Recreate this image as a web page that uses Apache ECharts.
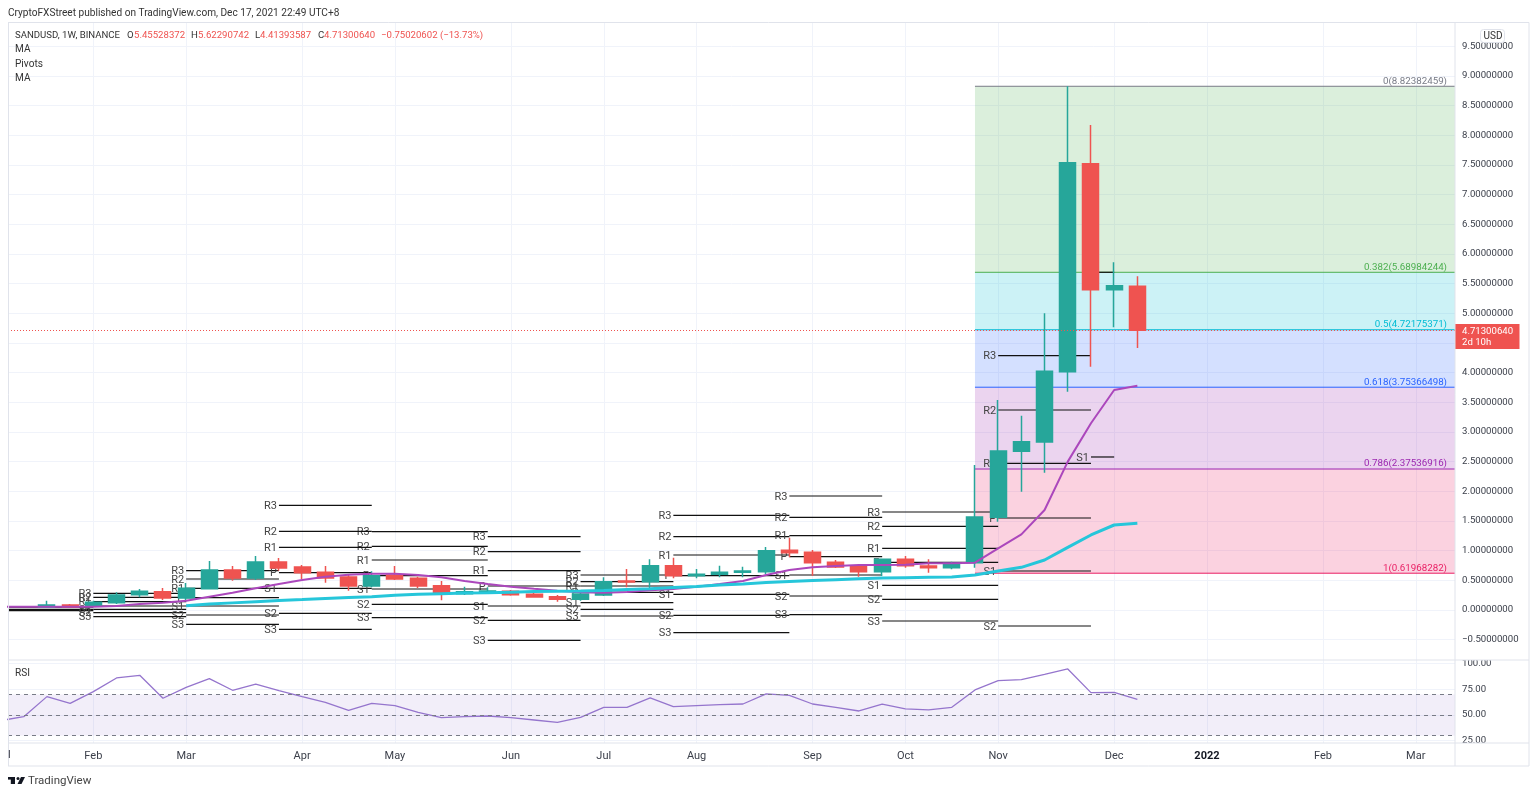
<!DOCTYPE html>
<html><head><meta charset="utf-8">
<style>html,body{margin:0;padding:0;background:#fff}#c{width:1536px;height:796px}</style>
<script src="https://cdn.jsdelivr.net/npm/echarts@6/dist/echarts.min.js"></script>
</head><body><div id="c"></div>
<script>
const weeks = ['2021-01-18','2021-01-25','2021-02-01','2021-02-08','2021-02-15','2021-02-22','2021-03-01','2021-03-08','2021-03-15','2021-03-22','2021-03-29','2021-04-05','2021-04-12','2021-04-19','2021-04-26','2021-05-03','2021-05-10','2021-05-17','2021-05-24','2021-05-31','2021-06-07','2021-06-14','2021-06-21','2021-06-28','2021-07-05','2021-07-12','2021-07-19','2021-07-26','2021-08-02','2021-08-09','2021-08-16','2021-08-23','2021-08-30','2021-09-06','2021-09-13','2021-09-20','2021-09-27','2021-10-04','2021-10-11','2021-10-18','2021-10-25','2021-11-01','2021-11-08','2021-11-15','2021-11-22','2021-11-29','2021-12-06','2021-12-13'];
const opens  = [.045,.084,.067,.124,.258,.309,.202,.359,.674,.539,.809,.724,.635,.556,.404,.59,.534,.41,.275,.303,.314,.264,.225,.18,.253,.489,.477,.747,.578,.601,.635,.646,1.005,.972,.803,.741,.646,.854,.741,.713,.797,1.562,2.674,2.831,4.015,7.52,5.397,5.45528372];
const closes = [.084,.05,.129,.253,.314,.202,.365,.674,.539,.809,.708,.629,.539,.404,.578,.522,.404,.281,.309,.32,.258,.219,.18,.27,.477,.472,.747,.578,.601,.635,.657,1.0,.966,.797,.724,.646,.854,.747,.713,.786,1.567,2.679,2.836,4.022,7.537,5.397,5.464,4.7130064];
const lows   = [.045,.04,.05,.10,.213,.168,.168,.348,.494,.505,.663,.522,.46,.326,.382,.505,.371,.163,.253,.281,.241,.208,.14,.157,.236,.382,.359,.534,.534,.55,.55,.601,.887,.578,.708,.562,.573,.713,.629,.685,.713,1.488,1.993,2.313,3.678,4.099,4.763,4.41393587];
const highs  = [.157,.10,.157,.298,.354,.371,.455,.826,.741,.91,.876,.758,.741,.601,.651,.741,.562,.489,.393,.382,.337,.292,.253,.309,.55,.691,.854,.882,.691,.747,.73,1.061,1.219,1.011,.842,.769,.865,.91,.854,.814,2.443,3.538,3.274,4.999,8.824,8.172,5.858,5.62290742];

const maFastDates = ['2021-01-04','2021-01-11'].concat(weeks);
const maFast = [.056,.056,.056,.056,.056,.067,.101,.124,.157,.225,.292,.365,.438,.505,.562,.595,.612,.612,.59,.55,.489,.438,.393,.359,.326,.298,.292,.303,.331,.354,.393,.438,.489,.59,.674,.719,.741,.758,.758,.764,.786,.786,.797,1.039,1.275,1.685,2.50,3.147,3.707,3.78];
const maSlowDates = weeks.slice(6);
const maSlow = [.073,.1,.12,.14,.16,.175,.195,.21,.225,.25,.265,.275,.285,.29,.3,.31,.315,.32,.33,.345,.36,.38,.395,.42,.44,.465,.48,.495,.51,.525,.54,.545,.55,.555,.59,.657,.719,.842,1.056,1.264,1.432,1.46];
const rsiDates = ['2021-01-04','2021-01-11'].concat(weeks);
const rsi = [44.5,48.4,67.9,61.4,72.8,86.1,88.7,66.3,77,85.4,74.1,80.2,73.7,67.9,62.4,54.6,61.4,59.1,52.6,47.4,48.4,49,47.4,45.1,42.8,47.7,57.5,57.5,66.6,58.1,59.1,60.1,60.7,70.5,69.2,60.7,57.5,53.9,60.7,55.9,54.9,57.5,74.4,83.5,84.5,89.5,94.9,71.8,72.1,65.3];

const pivotStarts = ['2021-01-04','2021-02-01','2021-03-01','2021-03-29','2021-04-26','2021-05-31','2021-06-28','2021-07-26','2021-08-30','2021-09-27','2021-11-01','2021-11-29'];
const pivotEnds   = ['2021-02-01','2021-03-01','2021-03-29','2021-04-26','2021-05-31','2021-06-28','2021-07-26','2021-08-30','2021-09-27','2021-11-01','2021-11-29','2021-12-06'];
const pivotR3 = [null,.281,.663,1.763,1.32,1.236,.59,1.595,1.921,1.651,4.285,null];
const pivotR2 = [null,.213,.522,1.325,1.073,.983,.477,1.236,1.561,1.41,3.37,null];
const pivotR1 = [.05,.14,.365,1.056,.842,.663,.404,.927,1.252,1.039,2.472,9.97];
const pivotP  = [.011,.067,.208,.629,.578,.404,.298,.578,.899,.803,1.55,5.69];
const pivotS1 = [-.011,.011,.067,.365,.354,.067,.124,.264,.59,.416,.657,2.578];
const pivotS2 = [null,-.045,-.084,-.056,.095,-.174,.011,-.09,.236,.18,-.27,null];
const pivotS3 = [null,-.112,-.241,-.326,-.129,-.511,-.101,-.382,-.079,-.185,null,null];
const pivotNames = ['R3','R2','R1','P','S1','S2','S3'];
const pivotLevels = [pivotR3,pivotR2,pivotR1,pivotP,pivotS1,pivotS2,pivotS3];

const fibRatios = ['0','0.382','0.5','0.618','0.786','1'];
const fibPrices = [8.82382459,5.68984244,4.72175371,3.75366498,2.37536916,0.61968282];
const fibStart = '2021-10-25';
const lastPrice = 4.7130064;

const priceTicks = [-0.5,0,0.5,1,1.5,2,2.5,3,3.5,4,4.5,5,5.5,6,6.5,7,7.5,8,8.5,9,9.5];
const rsiTicks = [25,50,75,100];
const rsiLevels = [70,50,30];
const monthDates = ['2021-02-01','2021-03-01','2021-04-05','2021-05-03','2021-06-07','2021-07-05','2021-08-02','2021-09-06','2021-10-04','2021-11-01','2021-12-06','2022-01-03','2022-02-07','2022-03-07'];
const monthLabels = ['Feb','Mar','Apr','May','Jun','Jul','Aug','Sep','Oct','Nov','Dec','2022','Feb','Mar'];

const FONT = 'Roboto';
const TEAL='#26a69a', RED='#ef5350', GRIDC='#f0f3fa', BORDER='#e0e3eb', TXT='#3c404b';
const fibColors = ['#787b86','#4caf50','#00bcd4','#2962ff','#9c27b0','#e91e63'];
const xMin = +new Date('2021-01-06T06:00:00Z'), xMax = +new Date('2022-03-18T20:00:00Z');
const monthTs = monthDates.map(d => +new Date(d));

const splitX = {show:true,lineStyle:{color:GRIDC,width:1}};
function xAxis(gi, showLabel){
  return {type:'value',gridIndex:gi,min:xMin,max:xMax,
    axisLine:{show:false},
    axisTick:{show:false,customValues:monthTs},
    splitLine:splitX,
    axisLabel:{show:showLabel,customValues:monthTs,margin:8,color:TXT,fontFamily:FONT,fontSize:11,hideOverlap:false,
      formatter:v=>{const i=monthTs.indexOf(+v);const s=i<0?'':monthLabels[i];return s==='2022'?'{y|2022}':s;},
      rich:{y:{fontWeight:'bold',fontFamily:FONT,fontSize:11,color:'#131722'}}}};
}

const pivotData=[];
pivotLevels.forEach((lv,n)=>lv.forEach((p,i)=>{if(p!==null)pivotData.push([+new Date(pivotStarts[i]),+new Date(pivotEnds[i]),p,n]);}));

const fibData = fibPrices.map((p,i)=>[p,i]);

const txt=(x,y,text,fill,extra)=>({type:'text',x,y,z:50,silent:true,style:Object.assign({text,fill,font:'9.6px '+FONT,verticalAlign:'middle'},extra||{})});
const rect=(x,y,w,h,fill,stroke)=>({type:'rect',z:40,silent:true,shape:{x,y,width:w,height:h},style:{fill:fill||'none',stroke:stroke||'none',lineWidth:1}});
const hl=(x1,y1,x2,y2)=>({type:'line',z:41,silent:true,shape:{x1,y1,x2,y2},style:{stroke:BORDER,lineWidth:1}});
const F101={font:'10.1px '+FONT};

const option={
  animation:false,backgroundColor:'#fff',
  grid:[{left:8,top:23,width:1447,height:637,show:false},{left:8,top:660,width:1447,height:83,show:false}],
  xAxis:[xAxis(0,false),xAxis(1,true)],
  yAxis:[
    {type:'value',gridIndex:0,position:'right',min:-0.8425,max:9.89,
     axisLine:{show:false},axisTick:{show:false,customValues:priceTicks},
     splitLine:{show:true,lineStyle:{color:GRIDC}},
     axisLabel:{customValues:priceTicks,margin:7,color:TXT,fontFamily:FONT,fontSize:9.6,padding:[3,0,0,0],
       formatter:v=>(v<0?'\u2212':'')+Math.abs(v).toFixed(8)}},
    {type:'value',gridIndex:1,position:'right',min:22.7,max:103.6,
     axisLine:{show:false},axisTick:{show:false,customValues:rsiTicks},
     splitLine:{show:true,lineStyle:{color:GRIDC}},
     axisLabel:{customValues:rsiTicks,margin:7,color:TXT,fontFamily:FONT,fontSize:9.6,padding:[3,0,0,0],formatter:v=>v.toFixed(2)}}
  ],
  series:[
    {type:'custom',name:'Fib',xAxisIndex:0,yAxisIndex:0,z:1,silent:true,data:fibData,encode:{y:0},
     renderItem:(params,api)=>{
       const i=api.value(1),p=api.value(0);
       const L=+new Date(fibStart);
       const a=api.coord([L,p]),b=api.coord([xMax,p]);
       const kids=[];
       if(i<fibPrices.length-1){
         const c=api.coord([L,fibPrices[i+1]]);
         kids.push({type:'rect',shape:{x:a[0],y:a[1],width:b[0]-a[0],height:c[1]-a[1]},style:{fill:fibColors[i+1],opacity:.2}});
       }
       kids.push({type:'line',shape:{x1:a[0],y1:a[1],x2:b[0],y2:b[1]},style:{stroke:fibColors[i],lineWidth:1}});
       kids.push({type:'text',x:b[0]-8,y:a[1],style:{text:fibRatios[i]+'('+fibPrices[i].toFixed(8)+')',align:'right',verticalAlign:'bottom',fill:fibColors[i],font:'9.75px '+FONT}});
       return {type:'group',children:kids};
     }},
    {type:'custom',name:'Pivots',xAxisIndex:0,yAxisIndex:0,z:2,silent:true,clip:true,data:pivotData,encode:{x:[0,1],y:2},
     renderItem:(params,api)=>{
       const a=api.coord([api.value(0),api.value(2)]),b=api.coord([api.value(1),api.value(2)]);
       return {type:'group',children:[
         {type:'line',shape:{x1:a[0],y1:a[1],x2:b[0],y2:b[1]},style:{stroke:'#111',lineWidth:1.2}},
         {type:'text',x:a[0]-2,y:a[1]+1,style:{text:pivotNames[api.value(3)],align:'right',verticalAlign:'middle',fill:'#444',font:'11px '+FONT}}
       ]};
     }},
    {type:'candlestick',name:'SANDUSD',xAxisIndex:0,yAxisIndex:0,z:3,silent:true,barWidth:16.5,
     encode:{x:0,y:[1,2,3,4]},
     itemStyle:{color:TEAL,color0:RED,borderColor:TEAL,borderColor0:RED,borderWidth:1.5},
     data:weeks.map((d,i)=>[+new Date(d),opens[i],closes[i],lows[i],highs[i]])},
    {type:'line',name:'MA',xAxisIndex:0,yAxisIndex:0,z:4,silent:true,symbol:'none',clip:true,
     lineStyle:{color:'#ab47bc',width:2},
     data:maFastDates.map((d,i)=>[+new Date(d),maFast[i]])},
    {type:'line',name:'MA2',xAxisIndex:0,yAxisIndex:0,z:4,silent:true,symbol:'none',
     lineStyle:{color:'#26c6da',width:3},
     data:maSlowDates.map((d,i)=>[+new Date(d),maSlow[i]]),
     markLine:{silent:true,symbol:'none',label:{show:false},
       lineStyle:{color:RED,type:[1,2],width:1},data:[{yAxis:lastPrice}]}},
    {type:'line',name:'RSI',xAxisIndex:1,yAxisIndex:1,z:4,silent:true,symbol:'none',clip:true,
     lineStyle:{color:'#9575cd',width:1.3},
     data:rsiDates.map((d,i)=>[+new Date(d),rsi[i]]),
     markArea:{silent:true,itemStyle:{color:'rgba(126,87,194,0.1)'},data:[[{yAxis:rsiLevels[0]},{yAxis:rsiLevels[2]}]]},
     markLine:{silent:true,symbol:'none',label:{show:false},
       lineStyle:{color:'#787b86',type:[4,4],width:1},data:rsiLevels.map(v=>({yAxis:v}))}}
  ],
  graphic:{elements:[
    rect(1456,652,72,8,'#fff'),rect(1456,743.5,72,8,'#fff'),
    hl(8,22.5,1529,22.5),hl(8.5,22.5,8.5,766),hl(1529,22.5,1529,766),hl(8,766,1529,766),
    hl(8,660,1529,660),hl(8,743,1529,743),hl(1455,22.5,1455,766),
    txt(8,13.5,'CryptoFXStreet published on TradingView.com, Dec 17, 2021 22:49 UTC+8','#333',F101),
    txt(15,35.7,'SANDUSD, 1W, BINANCE','#333'),
    txt(127,35.7,'O','#333'),txt(134,35.7,'5.45528372',RED),
    txt(191,35.7,'H','#333'),txt(198,35.7,'5.62290742',RED),
    txt(255,35.7,'L','#333'),txt(260,35.7,'4.41393587',RED),
    txt(318,35.7,'C','#333'),txt(324,35.7,'4.71300640',RED),
    txt(381,35.7,'\u22120.75020602 (\u221213.73%)',RED),
    txt(15,49.7,'MA','#333',F101),txt(15,64,'Pivots','#333',F101),txt(15,78,'MA','#333',F101),
    txt(15,673.7,'RSI','#333',F101),
    {type:'rect',z:45,silent:true,shape:{x:1480.5,y:29.5,width:24,height:13,r:3},style:{fill:'#fff',stroke:BORDER,lineWidth:1}},
    txt(1483.5,36.5,'USD','#333',{font:'10px '+FONT}),
    rect(1455,324,64.5,25,RED),
    txt(1462,331.7,'4.71300640','#fff',{font:'9.6px '+FONT}),
    txt(1462,343,'2d 10h','#fff',{font:'9.6px '+FONT}),
    txt(8,755.5,'l',TXT,{font:'11px '+FONT}),
    rect(8,777,7,2.6,'#131722'),rect(10.8,777,4.2,7,'#131722'),
    {type:'circle',z:40,silent:true,shape:{cx:18,cy:778.4,r:1.5},style:{fill:'#131722'}},
    {type:'polygon',z:40,silent:true,shape:{points:[[21,777],[25,777],[21.5,784],[17.5,784]]},style:{fill:'#131722'}},
    txt(28,781.5,'TradingView','#444',{font:'11.5px '+FONT})
  ]}
};
echarts.init(document.getElementById('c'),null,{renderer:'canvas'}).setOption(option);
</script></body></html>
